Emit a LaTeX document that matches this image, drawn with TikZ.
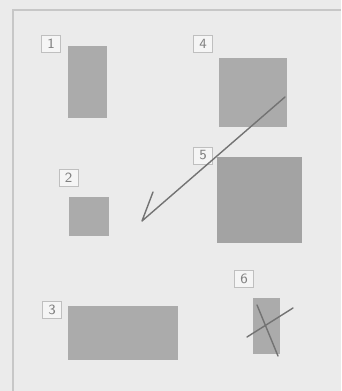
\documentclass[tikz,border=0pt]{standalone}
\usepackage{tikz}

\begin{document}
\begin{tikzpicture}[x=0.02cm, y=-0.02cm,
  blk/.style={fill=black!33, draw=none, inner sep=0pt},
  tag/.style={draw=black!25, fill=black!4, text=black!50, inner sep=0pt,
    minimum width=19*0.02cm, minimum height=17*0.02cm,
    font=\fontsize{8}{9}\selectfont\sffamily},
  pen/.style={draw=black!55, line width=0.8pt, line cap=round, line join=round}]

% Parameters
\def\u{0.02cm}            % one pixel of the sheet

% Sheet
\fill[black!8] (0,0) rectangle (341,391);
\useasboundingbox (0,0) rectangle (341,391);

% Frame (only left and top edges are in view)
\draw[black!22, line width=1pt] (13,391) -- (13,10) -- (341,10);

% Blocks
\node[blk, minimum width=39*\u, minimum height=72*\u] (b1) at (87.5,82) {};
\node[blk, minimum width=40*\u, minimum height=39*\u] (b2) at (89,216.5) {};
\node[blk, minimum width=110*\u, minimum height=54*\u] (b3) at (123,333) {};
\node[blk, minimum width=68*\u, minimum height=69*\u] (b4) at (253,92.5) {};
\node[blk, minimum width=85*\u, minimum height=86*\u, fill=black!36] (b5) at (259.5,200) {};
\node[blk, minimum width=27*\u, minimum height=56*\u] (b6) at (266.5,326) {};

% Number tags
\node[tag] (t1) at (51,44) {1};
\node[tag] (t2) at (68.5,177.5) {2};
\node[tag] (t3) at (52,309.5) {3};
\node[tag] (t4) at (203,43.5) {4};
\node[tag] (t5) at (203,155.5) {5};
\node[tag] (t6) at (244,278.5) {6};

% Tick mark from block 5 up into block 4
\coordinate (k1) at (153,192);
\coordinate (k2) at (142,221);
\coordinate (k3) at (285,97);
\draw[pen] (k1) -- (k2) -- (k3);

% Cross on block 6
\coordinate (c1) at (257,305);
\coordinate (c2) at (278,356);
\coordinate (c3) at (247,337);
\coordinate (c4) at (293,308);
\draw[pen] (c1) -- (c2);
\draw[pen] (c3) -- (c4);

\end{tikzpicture}
\end{document}
